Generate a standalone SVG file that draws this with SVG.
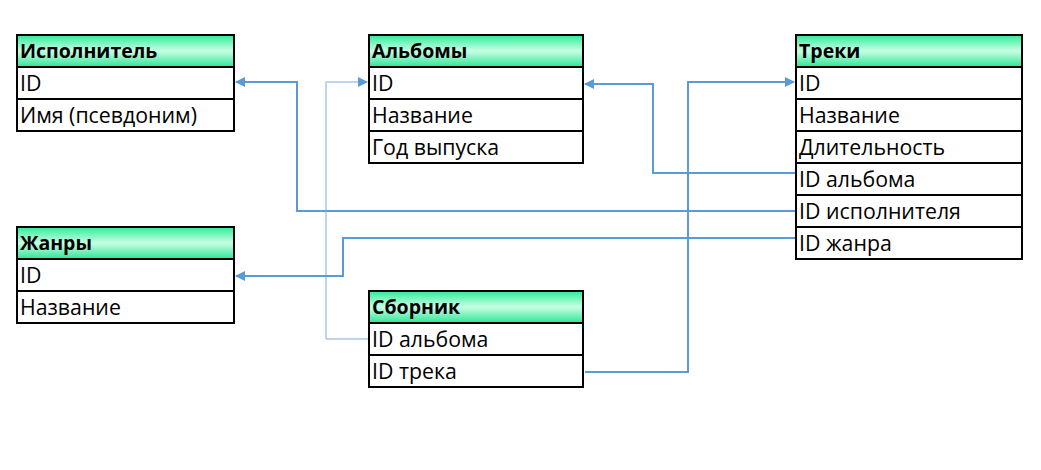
<svg xmlns="http://www.w3.org/2000/svg" width="1041" height="470" viewBox="0 0 1041 470">
<defs>
<linearGradient id="hdr" x1="0" y1="0" x2="0" y2="1">
<stop offset="0" stop-color="#2EEB98"/>
<stop offset="0.5" stop-color="#C8FFE4"/>
<stop offset="1" stop-color="#2EE596"/>
</linearGradient>
<marker id="arr2" viewBox="0 0 10 10" refX="9" refY="5" markerWidth="10" markerHeight="10" orient="auto" markerUnits="userSpaceOnUse">
<path d="M0,0 L10,5 L0,10 z" fill="#5B9BD5"/>
</marker>
</defs>
<style>
.h{fill:url(#hdr);stroke:#000;stroke-width:2}
.r{fill:#fff;stroke:#000;stroke-width:2}
.ht{font-family:"Open Sans","DejaVu Sans",sans-serif;font-weight:bold;font-size:19.5px;fill:#000}
.t{font-family:"Open Sans","DejaVu Sans",sans-serif;font-size:21.3px;fill:#000}
.c{fill:none;stroke:#5B9BD5;stroke-width:2}
.c1{fill:none;stroke:#7FA8E0;stroke-width:1}
</style>
<rect width="1041" height="470" fill="#fff"/>
<g id="connectors">
<path class="c" d="M796,211 H297 V82 H236" marker-end="url(#arr2)"/>
<path class="c1" d="M369,339 H326 V82 H367" marker-end="url(#arr2)"/>
<path class="c" d="M796,173 H653 V84 H585" marker-end="url(#arr2)"/>
<path class="c" d="M585,372 H688 V82 H794" marker-end="url(#arr2)"/>
<path class="c" d="M796,238 H343 V276 H236" marker-end="url(#arr2)"/>
</g>
<g id="ispolnitel">
<rect class="h" x="17" y="35" width="217" height="32"/>
<rect class="r" x="17" y="67" width="217" height="32"/>
<rect class="r" x="17" y="99" width="217" height="32"/>
<text class="ht" x="20" y="58">Исполнитель</text>
<text class="t" x="20" y="91">ID</text>
<text class="t" x="20" y="123">Имя (псевдоним)</text>
</g>
<g id="albomy">
<rect class="h" x="369" y="35" width="214" height="32"/>
<rect class="r" x="369" y="67" width="214" height="32"/>
<rect class="r" x="369" y="99" width="214" height="32"/>
<rect class="r" x="369" y="131" width="214" height="32"/>
<text class="ht" x="372" y="58">Альбомы</text>
<text class="t" x="372" y="91">ID</text>
<text class="t" x="372" y="123">Название</text>
<text class="t" x="372" y="155">Год выпуска</text>
</g>
<g id="treki">
<rect class="h" x="796" y="35" width="226" height="32"/>
<rect class="r" x="796" y="67" width="226" height="32"/>
<rect class="r" x="796" y="99" width="226" height="32"/>
<rect class="r" x="796" y="131" width="226" height="32"/>
<rect class="r" x="796" y="163" width="226" height="32"/>
<rect class="r" x="796" y="195" width="226" height="32"/>
<rect class="r" x="796" y="227" width="226" height="32"/>
<text class="ht" x="799" y="58">Треки</text>
<text class="t" x="799" y="91">ID</text>
<text class="t" x="799" y="123">Название</text>
<text class="t" x="799" y="155">Длительность</text>
<text class="t" x="799" y="187">ID альбома</text>
<text class="t" x="799" y="219">ID исполнителя</text>
<text class="t" x="799" y="251">ID жанра</text>
</g>
<g id="zhanry">
<rect class="h" x="17" y="227" width="217" height="32"/>
<rect class="r" x="17" y="259" width="217" height="32"/>
<rect class="r" x="17" y="291" width="217" height="32"/>
<text class="ht" x="20" y="250">Жанры</text>
<text class="t" x="20" y="283">ID</text>
<text class="t" x="20" y="315">Название</text>
</g>
<g id="sbornik">
<rect class="h" x="369" y="291" width="214" height="32"/>
<rect class="r" x="369" y="323" width="214" height="32"/>
<rect class="r" x="369" y="355" width="214" height="32"/>
<text class="ht" x="372" y="314">Сборник</text>
<text class="t" x="372" y="347">ID альбома</text>
<text class="t" x="372" y="379">ID трека</text>
</g>
</svg>
